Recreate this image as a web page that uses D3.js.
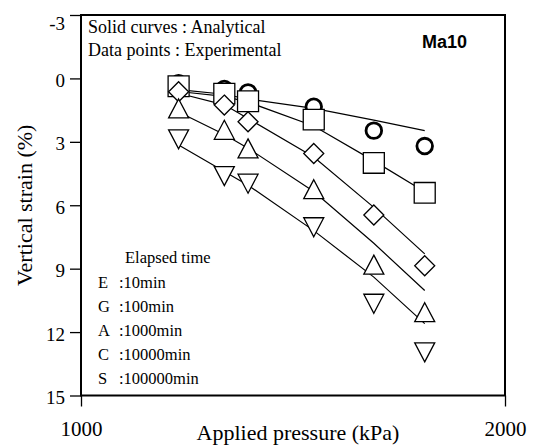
<!DOCTYPE html>
<html>
<head>
<meta charset="utf-8">
<script src="https://cdn.jsdelivr.net/npm/d3@7"></script>
<style>
  body { margin: 0; background: #fff; }
  svg { display: block; }
</style>
</head>
<body>
<svg id="chart" width="534" height="446"></svg>
<script>
// applied pressure of each loading step (kPa)
var pressure = [1173, 1264, 1314, 1463, 1614, 1754];

// experimental vertical strain (%) for each elapsed time
var expE = [0.23, 0.50, 0.66, 1.34, 2.47, 3.20];
var expG = [0.37, 0.72, 1.08, 1.95, 4.00, 5.41];
var expA = [0.63, 1.26, 2.05, 3.55, 6.46, 8.86];
var expC = [1.42, 2.43, 3.31, 5.24, 8.81, 11.06];
var expS = [2.88, 4.62, 4.98, 7.04, 10.66, 12.96];

// analytical curves
var anaE = [0.53, 0.75, 0.98, 1.42, 1.97, 2.47];
var anaG = [0.62, 0.85, 1.12, 2.25, 3.90, 5.36];
var anaA = [0.70, 1.25, 1.90, 3.72, 6.10, 8.30];
var anaC = [1.59, 2.65, 3.30, 5.35, 7.80, 10.03];
var anaS = [3.15, 4.40, 5.05, 7.20, 9.40, 11.60];

var legendKeys = ["E", "G", "A", "C", "S"];
var legendTimes = [":10min", ":100min", ":1000min", ":10000min", ":100000min"];
var yTicks = [-3, 0, 3, 6, 9, 12, 15];
var xTicks = [1000, 2000];

var svg = d3.select("#chart");
// plot box (note: "top" is reserved on window, so use other names)
var plotL = 81, plotR = 505, plotT = 15, plotB = 395.5;

var x = d3.scaleLog().domain([1000, 2000]).range([plotL, plotR]);
var y = d3.scaleLinear().domain([-3, 15]).range([plotT, plotB]);

var serif = "'Liberation Serif', 'Times New Roman', serif";

/* ---------- axes ---------- */
var yAxis = svg.append("g")
    .attr("transform", "translate(" + plotL + ",0)")
    .call(d3.axisLeft(y).tickValues(yTicks).tickFormat(function(d) { return String(d); })
      .tickSize(11).tickPadding(5));
yAxis.select(".domain").remove();
yAxis.selectAll("line").attr("stroke", "#000").attr("stroke-width", 1.3);
yAxis.selectAll("text")
    .attr("font-family", serif).attr("font-size", 19).attr("fill", "#000")
    .attr("dy", function(d) { return d === -3 ? "0.75em" : "0.42em"; });

var xAxis = svg.append("g")
    .attr("transform", "translate(0," + plotB + ")")
    .call(d3.axisBottom(x).tickValues(xTicks).tickFormat(function(d) { return String(d); })
      .tickSize(11).tickPadding(15));
xAxis.select(".domain").remove();
xAxis.selectAll("line").attr("stroke", "#000").attr("stroke-width", 1.3);
xAxis.selectAll("text")
    .attr("font-family", serif).attr("font-size", 21).attr("fill", "#000");

// axis titles
svg.append("text")
    .attr("transform", "translate(32," + ((plotT + plotB) / 2) + ") rotate(-90)")
    .attr("text-anchor", "middle")
    .attr("font-family", serif).attr("font-size", 22)
    .text("Vertical strain (%)");

svg.append("text")
    .attr("x", 298).attr("y", 440)
    .attr("text-anchor", "middle")
    .attr("font-family", serif).attr("font-size", 22)
    .text("Applied pressure (kPa)");

/* ---------- analytical curves ---------- */
var line = d3.line()
    .x(function(d, i) { return x(pressure[i]); })
    .y(function(d) { return y(d); });

[anaE, anaG, anaA, anaC, anaS].forEach(function(curve) {
  svg.append("path")
    .attr("d", line(curve))
    .attr("fill", "none")
    .attr("stroke", "#000")
    .attr("stroke-width", 1.2);
});

/* ---------- experimental points ---------- */
function markerPath(shape) {
  var p = d3.path();
  if (shape === "square") {
    p.rect(-10.5, -10.3, 21, 20.6);
  } else if (shape === "diamond") {
    p.moveTo(0, -10); p.lineTo(10, 0); p.lineTo(0, 10); p.lineTo(-10, 0); p.closePath();
  } else if (shape === "up") {
    p.moveTo(0, -9.5); p.lineTo(10, 9.5); p.lineTo(-10, 9.5); p.closePath();
  } else if (shape === "down") {
    p.moveTo(0, 9.5); p.lineTo(10, -9.5); p.lineTo(-10, -9.5); p.closePath();
  }
  return p.toString();
}

// circles (10 min) sit behind the rest
svg.append("g").selectAll("circle")
  .data(expE)
  .enter().append("circle")
    .attr("cx", function(d, i) { return x(pressure[i]); })
    .attr("cy", function(d) { return y(d); })
    .attr("r", 7.8)
    .attr("fill", "#fff")
    .attr("stroke", "#000")
    .attr("stroke-width", 2.8);

[[expG, "square"], [expA, "diamond"], [expC, "up"], [expS, "down"]].forEach(function(s) {
  svg.append("g").selectAll("path")
    .data(s[0])
    .enter().append("path")
      .attr("transform", function(d, i) { return "translate(" + x(pressure[i]) + "," + y(d) + ")"; })
      .attr("d", markerPath(s[1]))
      .attr("fill", "#fff")
      .attr("stroke", "#000")
      .attr("stroke-width", 1.3);
});

/* ---------- frame ---------- */
svg.append("rect")
    .attr("x", plotL).attr("y", plotT)
    .attr("width", plotR - plotL).attr("height", plotB - plotT)
    .attr("fill", "none").attr("stroke", "#000").attr("stroke-width", 2);

/* ---------- annotations ---------- */
svg.append("text").attr("x", 88).attr("y", 33)
    .attr("font-family", serif).attr("font-size", 18)
    .text("Solid curves : Analytical");
svg.append("text").attr("x", 88).attr("y", 56)
    .attr("font-family", serif).attr("font-size", 18)
    .text("Data points : Experimental");

svg.append("text").attr("x", 422).attr("y", 48)
    .attr("font-family", "'Liberation Sans', Arial, sans-serif")
    .attr("font-size", 18).attr("font-weight", "bold")
    .text("Ma10");

svg.append("text").attr("x", 125).attr("y", 263)
    .attr("font-family", serif).attr("font-size", 16.5)
    .text("Elapsed time");

var legend = svg.append("g").selectAll("g")
  .data(legendKeys)
  .enter().append("g")
    .attr("transform", function(d, i) { return "translate(0," + (287.5 + i * 24.2) + ")"; });
legend.append("text")
    .attr("x", 98)
    .attr("font-family", serif).attr("font-size", 16.5)
    .text(function(d) { return d; });
legend.append("text")
    .attr("x", 119)
    .attr("font-family", serif).attr("font-size", 16.5)
    .text(function(d, i) { return legendTimes[i]; });
</script>
</body>
</html>
